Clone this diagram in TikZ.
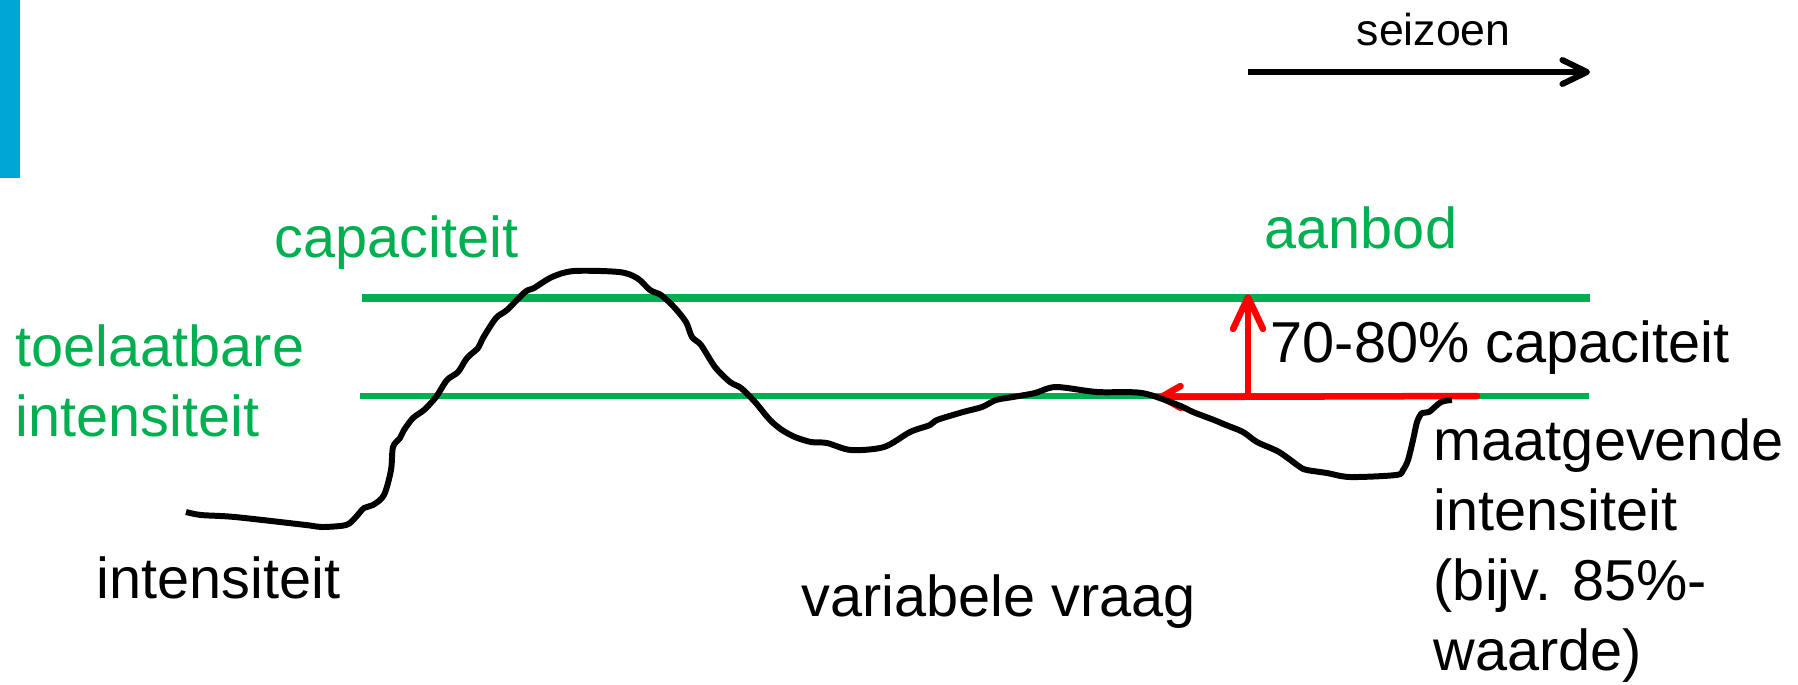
\documentclass[tikz,border=0pt]{standalone}
\usepackage{fontspec}
\setmainfont{Liberation Sans}
\usetikzlibrary{arrows.meta}

\definecolor{tugreen}{HTML}{00B050}
\definecolor{tublue}{HTML}{00A6D6}

\newcommand{\grootfont}{\fontsize{16.4}{19.9}\selectfont}

\begin{document}
\begin{tikzpicture}[x=0.01cm,y=-0.01cm,
    lbl/.style={inner sep=0pt,anchor=base west,font=\grootfont,align=left},
    roodpijl/.style={red,line width=1.85pt,line cap=round}]
  \useasboundingbox (0,0) rectangle (1798,684);
  \fill[tublue] (0,0) rectangle (20,178);
  % seizoen arrow
  \coordinate (sz-a) at (1248,72);
  \coordinate (sz-b) at (1590,72);
  \draw[line width=1.7pt,-{Straight Barb[length=7pt,width=6.8pt,round]}] (sz-a) -- (sz-b);
  \node[lbl,font=\fontsize{12.7}{15}\selectfont] (seizoen) at (1356,45) {seizoen};
  % capacity and allowed intensity levels
  \coordinate (cap-l) at (362,298);
  \coordinate (cap-r) at (1590,298);
  \coordinate (toel-l) at (360,396);
  \coordinate (toel-r) at (1589,396);
  \draw[tugreen,line width=2.3pt] (cap-l) -- (cap-r);
  \draw[tugreen,line width=1.7pt] (toel-l) -- (toel-r);
  \node[lbl,text=tugreen] (capaciteit) at (274,257) {capaciteit};
  \node[lbl,text=tugreen] (aanbod) at (1264,248) {aanbod};
  % base of a multi-line node = last line
  \node[lbl,text=tugreen] (toelaatbaar) at (15,436) {toelaatbare\\intensiteit};
  % red arrows
  \coordinate (rood-r) at (1477,396);
  \coordinate (rood-l) at (1158,397);
  \coordinate (rood-v) at (1248,396);
  \coordinate (rood-top) at (1248,294);
  \draw[roodpijl,-{Straight Barb[length=5.5pt,width=6.2pt,round]}] (rood-r) -- (rood-l);
  \draw[roodpijl,-{Straight Barb[length=9pt,width=8.5pt,round]}] (rood-v) -- (rood-top);
  \node[lbl] (pct) at (1270,362) {70-80\% capaciteit};
  % variable demand over the season
  \draw[line width=1.7pt,line join=round] plot[smooth,tension=0.5] coordinates {
    (186,512) (201,515) (235,517) (306,525) (322,527) (346,525) (355,518)
    (364,508) (373,505) (384,495) (391,470) (393,447) (400,438) (404,430)
    (413,418) (424,410) (436,397) (447,380) (458,372) (467,358) (478,348)
    (483,338) (496,318) (507,310) (525,292) (534,288) (552,277) (574,271)
    (619,272) (637,278) (650,290) (661,295) (674,307) (686,322) (692,337)
    (701,345) (715,367) (730,382) (741,388) (755,402) (770,420) (782,430)
    (795,437) (811,442) (827,443) (851,450) (884,447) (910,432) (930,425)
    (937,420) (963,412) (982,407) (996,400) (1013,397) (1035,393) (1056,387)
    (1097,392) (1142,393) (1178,405) (1193,412) (1214,420) (1226,425)
    (1243,432) (1257,442) (1279,452) (1300,467) (1307,470) (1327,473)
    (1350,477) (1396,475) (1403,470) (1408,460) (1413,440) (1417,422)
    (1422,413) (1429,412) (1441,402) (1452,400)};
  \node[lbl] (maatgevend) at (1433,670) {maatgevende\\intensiteit\\(bijv. 85\%-\\waarde)};
  \node[lbl] (intensiteit) at (96,598) {intensiteit};
  \node[lbl] (vraag) at (801,616) {variabele vraag};
\end{tikzpicture}
\end{document}
